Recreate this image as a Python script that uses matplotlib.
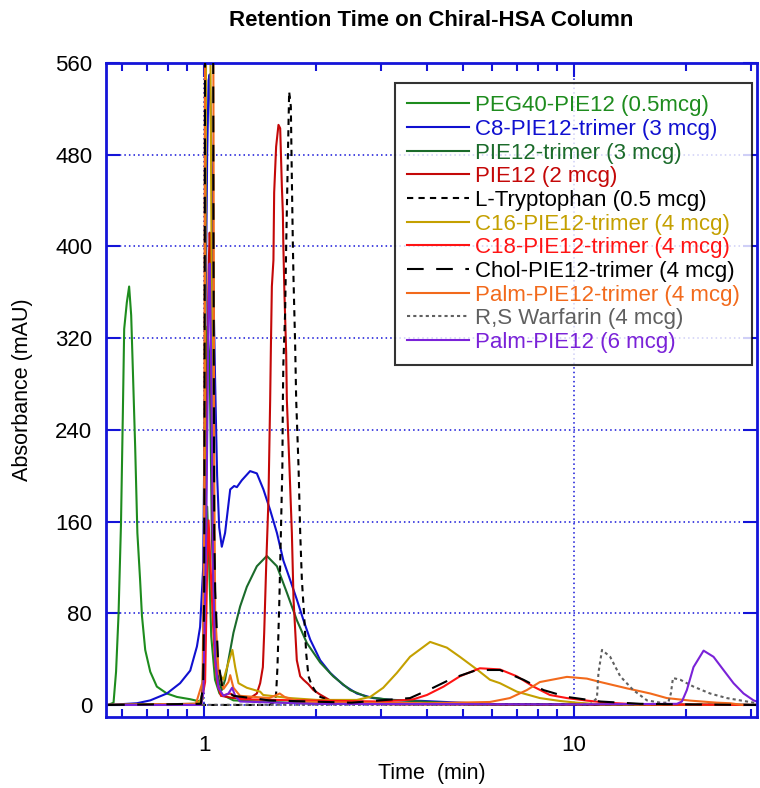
import matplotlib
matplotlib.use("Agg")
import matplotlib.pyplot as plt
from matplotlib.ticker import FixedLocator, NullFormatter

plt.rcParams['font.family'] = ['Liberation Sans', 'DejaVu Sans']

# retention time (min) / absorbance (mAU)
peg40_t = [0.550, 0.569, 0.578, 0.587, 0.596, 0.603, 0.608, 0.618, 0.627, 0.635, 0.642, 0.651, 0.660,
           0.671, 0.679, 0.693, 0.715, 0.745, 0.793, 0.844, 0.917, 0.975, 0.990, 1.006, 1.019, 1.030,
           1.045, 1.070, 1.100, 1.200, 2.00, 31.0]
peg40_a = [0, 2, 29, 79, 158, 255, 328, 351, 365, 340, 290, 225, 150, 110, 78, 48, 29, 16, 10, 7, 5, 3,
           10, 120, 173, 130, 60, 22, 10, 4, 1, 0]

c8_t = [0.550, 0.658, 0.715, 0.793, 0.861, 0.917, 0.956, 0.975, 0.994, 1.006, 1.019, 1.028, 1.035, 1.041,
        1.049, 1.057, 1.071, 1.084, 1.098, 1.116, 1.139, 1.176, 1.205, 1.226, 1.264, 1.331, 1.388, 1.446,
        1.508, 1.573, 1.637, 1.708, 1.780, 1.855, 1.935, 2.059, 2.191, 2.376, 2.586, 2.863, 3.18, 3.907,
        4.91, 6.30, 31.0]
c8_a = [0, 1.5, 4, 10, 19, 30, 51, 68, 120, 300, 480, 545, 550, 520, 470, 380, 280, 200, 155, 138, 150,
        188, 191, 190, 196, 204, 202, 188, 170, 150, 126, 109, 92, 74, 57, 39, 28, 17.5, 10, 6, 4.5, 3.5,
        2, 0.5, 0]

trimer_t = [0.550, 0.950, 0.990, 1.006, 1.019, 1.035, 1.049, 1.071, 1.098, 1.116, 1.139, 1.163, 1.200,
            1.251, 1.304, 1.388, 1.477, 1.573, 1.673, 1.780, 1.895, 2.059, 2.232, 2.480, 2.753, 3.18,
            4.425, 5.23, 31.0]
trimer_a = [0, 1, 5, 150, 330, 300, 150, 50, 20, 13, 22, 39, 63, 86, 103, 121, 130, 121, 98, 74, 54, 37,
            25, 13, 7, 4.5, 2, 0.5, 0]

pie12_t = [0.550, 0.980, 0.995, 1.013, 1.028, 1.035, 1.041, 1.049, 1.057, 1.071, 1.084, 1.110, 1.200,
           1.331, 1.388, 1.417, 1.441, 1.453, 1.471, 1.492, 1.508, 1.515, 1.524, 1.539, 1.546, 1.565,
           1.588, 1.605, 1.622, 1.632, 1.637, 1.648, 1.666, 1.673, 1.700, 1.726, 1.744, 1.780, 1.818,
           1.855, 1.914, 1.974, 2.059, 2.191, 2.48, 3.38, 31.0]
pie12_a = [0, 0, 20, 200, 380, 412, 390, 250, 120, 50, 20, 8, 6, 6, 10, 19, 33, 63, 121, 179, 266, 313,
           365, 388, 447, 487, 506, 503, 452, 429, 400, 359, 307, 266, 208, 150, 92, 39, 25, 22, 18, 13,
           9, 4, 1, 0.5, 0]

trp_t = [0.550, 1.500, 1.556, 1.565, 1.578, 1.597, 1.612, 1.627, 1.632, 1.637, 1.655, 1.666, 1.679,
         1.697, 1.715, 1.726, 1.737, 1.744, 1.762, 1.773, 1.799, 1.818, 1.837, 1.864, 1.887, 1.914,
         1.954, 2.016, 2.059, 2.191, 2.64, 3.38, 11.77, 31.0]
trp_a = [0, 0, 3, 10, 33, 92, 150, 208, 266, 298, 342, 400, 458, 535, 522, 458, 400, 371, 313, 266, 208,
         150, 109, 77, 45, 25, 17, 10, 7, 4, 1.5, 1, 0.5, 0]

c16_t = [0.550, 0.950, 0.990, 1.000, 1.006, 1.013, 1.025, 1.038, 1.051, 1.064, 1.071, 1.093, 1.128,
         1.163, 1.192, 1.213, 1.238, 1.304, 1.417, 1.444, 1.708, 2.016, 2.232, 2.586, 2.81, 3.047, 3.318,
         3.60, 4.08, 4.528, 4.91, 5.458, 5.92, 6.30, 7.00, 8.08, 9.15, 10.17, 11.77, 31.0]
c16_a = [0, 1, 5, 60, 300, 620, 700, 620, 300, 120, 60, 28, 22, 37, 48, 33, 19, 15, 11.6, 8.7, 6, 4.4,
         4.4, 4.4, 7, 15, 28, 42, 55, 50, 42, 31, 22, 19, 11.6, 6, 3.5, 2, 0.5, 0]

c18_t = [0.550, 0.980, 1.006, 1.019, 1.028, 1.041, 1.057, 1.071, 1.093, 1.116, 1.176, 1.250, 1.800, 3.00,
         3.38, 3.68, 4.00, 4.435, 4.91, 5.56, 6.30, 7.00, 7.76, 8.60, 9.56, 10.82, 12.26, 13.88, 16.06, 31.0]
c18_a = [0, 0, 20, 120, 161, 120, 70, 35, 15, 8, 10, 5, 4, 3, 4, 5, 8.7, 16, 25, 32, 31, 25, 16, 8.7, 6,
         3.8, 2, 1, 0.5, 0]

chol_t = [0.550, 0.980, 0.994, 1.000, 1.004, 1.008, 1.055, 1.060, 1.065, 1.071, 1.090, 1.120, 1.200,
          1.500, 2.50, 3.60, 4.157, 4.71, 5.458, 6.30, 7.29, 8.26, 9.56, 11.77, 15.09, 19.35, 31.0]
chol_a = [0, 1, 20, 100, 400, 800, 800, 400, 150, 100, 40, 15, 8, 4, 2, 6, 15, 23.5, 30.5, 30.5, 22, 13,
          7, 3, 1, 0.5, 0]

palm3_t = [0.550, 0.950, 0.990, 1.000, 1.004, 1.008, 1.055, 1.060, 1.065, 1.071, 1.093, 1.128, 1.163,
           1.176, 1.200, 1.250, 1.500, 1.600, 1.650, 1.800, 2.50, 4.00, 5.92, 6.70, 7.45, 8.08, 9.56,
           10.82, 11.77, 13.88, 16.06, 17.80, 20.59, 24.3, 26.4, 28.5]
palm3_a = [0, 1, 20, 150, 500, 800, 800, 500, 200, 80, 30, 14, 20, 26, 15, 8, 6, 10, 7, 3, 2, 1.5, 2.6,
           6, 13, 20, 24.5, 23, 20, 14.5, 10, 6, 3.8, 2, 1.5, 0]

warf_t = [0.550, 11.05, 11.52, 11.63, 11.89, 12.51, 13.32, 14.44, 15.73, 17.09, 17.95, 18.25, 18.49,
          19.35, 21.01, 23.3, 25.86, 29.3, 31.8]
warf_a = [0, 0.5, 6, 28, 48, 42, 25, 13, 4, 2, 2, 10, 23.5, 22, 16, 10, 6, 3, 1]

palm_t = [0.550, 0.980, 0.995, 1.013, 1.028, 1.035, 1.045, 1.057, 1.071, 1.093, 1.128, 1.163, 1.190,
          1.213, 1.250, 2.00, 10.0, 18.95, 19.55, 20.16, 21.01, 22.37, 23.80, 25.32, 26.95, 28.69, 30.53, 31.8]
palm_a = [0, 0, 10, 150, 350, 385, 300, 120, 40, 15, 8, 10, 15, 8, 3, 1, 0.5, 1, 3, 13, 33, 47.4, 42,
          30.5, 19, 10, 4, 2]

BLUE = '#1414d8'

series = [
    (peg40_t, peg40_a, 'PEG40-PIE12 (0.5mcg)', '#1e8c1e', '-'),
    (c8_t, c8_a, 'C8-PIE12-trimer (3 mcg)', '#1010d0', '-'),
    (trimer_t, trimer_a, 'PIE12-trimer (3 mcg)', '#1b6b2b', '-'),
    (pie12_t, pie12_a, 'PIE12 (2 mcg)', '#c40808', '-'),
    (trp_t, trp_a, 'L-Tryptophan (0.5 mcg)', 'black', (0, (3, 2.5))),
    (c16_t, c16_a, 'C16-PIE12-trimer (4 mcg)', '#c4a000', '-'),
    (c18_t, c18_a, 'C18-PIE12-trimer (4 mcg)', '#ff1414', '-'),
    (chol_t, chol_a, 'Chol-PIE12-trimer (4 mcg)', 'black', (0, (8, 6))),
    (palm3_t, palm3_a, 'Palm-PIE12-trimer (4 mcg)', '#f26a1c', '-'),
    (warf_t, warf_a, 'R,S Warfarin (4 mcg)', '#606060', (0, (1.5, 1.5))),
    (palm_t, palm_a, 'Palm-PIE12 (6 mcg)', '#7a22d8', '-'),
]

fig = plt.figure(figsize=(7.6, 7.88), dpi=100)
ax = fig.add_axes([0.1395, 0.0901, 0.8566, 0.830])

for t, a, label, color, ls in series:
    z = 3 if 'Chol' in label else 2
    ax.plot(t, a, color=color, linestyle=ls, linewidth=1.5, label=label, zorder=z)

ax.set_xscale('log')
ax.set_xlim(0.543, 31.2)
ax.set_ylim(-10.5, 560)
ax.set_xticks([1, 10])
ax.set_xticklabels(['1', '10'])
ax.xaxis.set_minor_locator(FixedLocator([0.6, 0.7, 0.8, 0.9, 2, 3, 4, 5, 6, 7, 8, 9, 20, 30]))
ax.xaxis.set_minor_formatter(NullFormatter())
ax.set_yticks(range(0, 561, 80))

ax.grid(True, which='major', color=BLUE, linestyle=(0, (1, 2)), linewidth=1.1, zorder=0)
ax.set_axisbelow(True)
for sp in ax.spines.values():
    sp.set_color(BLUE)
    sp.set_linewidth(2)
ax.tick_params(which='both', direction='in', top=True, right=True, color=BLUE, labelsize=16,
               labelcolor='black')
ax.tick_params(which='major', length=10, width=1.5, pad=10)
ax.tick_params(axis='x', which='major', pad=13)
ax.tick_params(which='minor', length=6, width=1.5)

ax.set_xlabel('Time  (min)', fontsize=15.5, labelpad=5)
ax.set_ylabel('Absorbance (mAU)', fontsize=15.5, labelpad=16)
fig.text(0.567, 1 - 21 / 788, 'Retention Time on Chiral-HSA Column', ha='center', va='center',
         fontsize=16, fontweight='bold')

leg = ax.legend(loc='upper right', bbox_to_anchor=(752 / 760, 1 - 83 / 788), bbox_transform=fig.transFigure,
                borderaxespad=0, fontsize=16, frameon=True, fancybox=False, handlelength=2.8,
                handletextpad=0.25, labelspacing=0.12, borderpad=0.55)
leg.get_frame().set_edgecolor('black')
leg.get_frame().set_linewidth(1.5)
for txt, s in zip(leg.get_texts(), series):
    txt.set_color(s[3])

fig.savefig('out.png', dpi=100)
